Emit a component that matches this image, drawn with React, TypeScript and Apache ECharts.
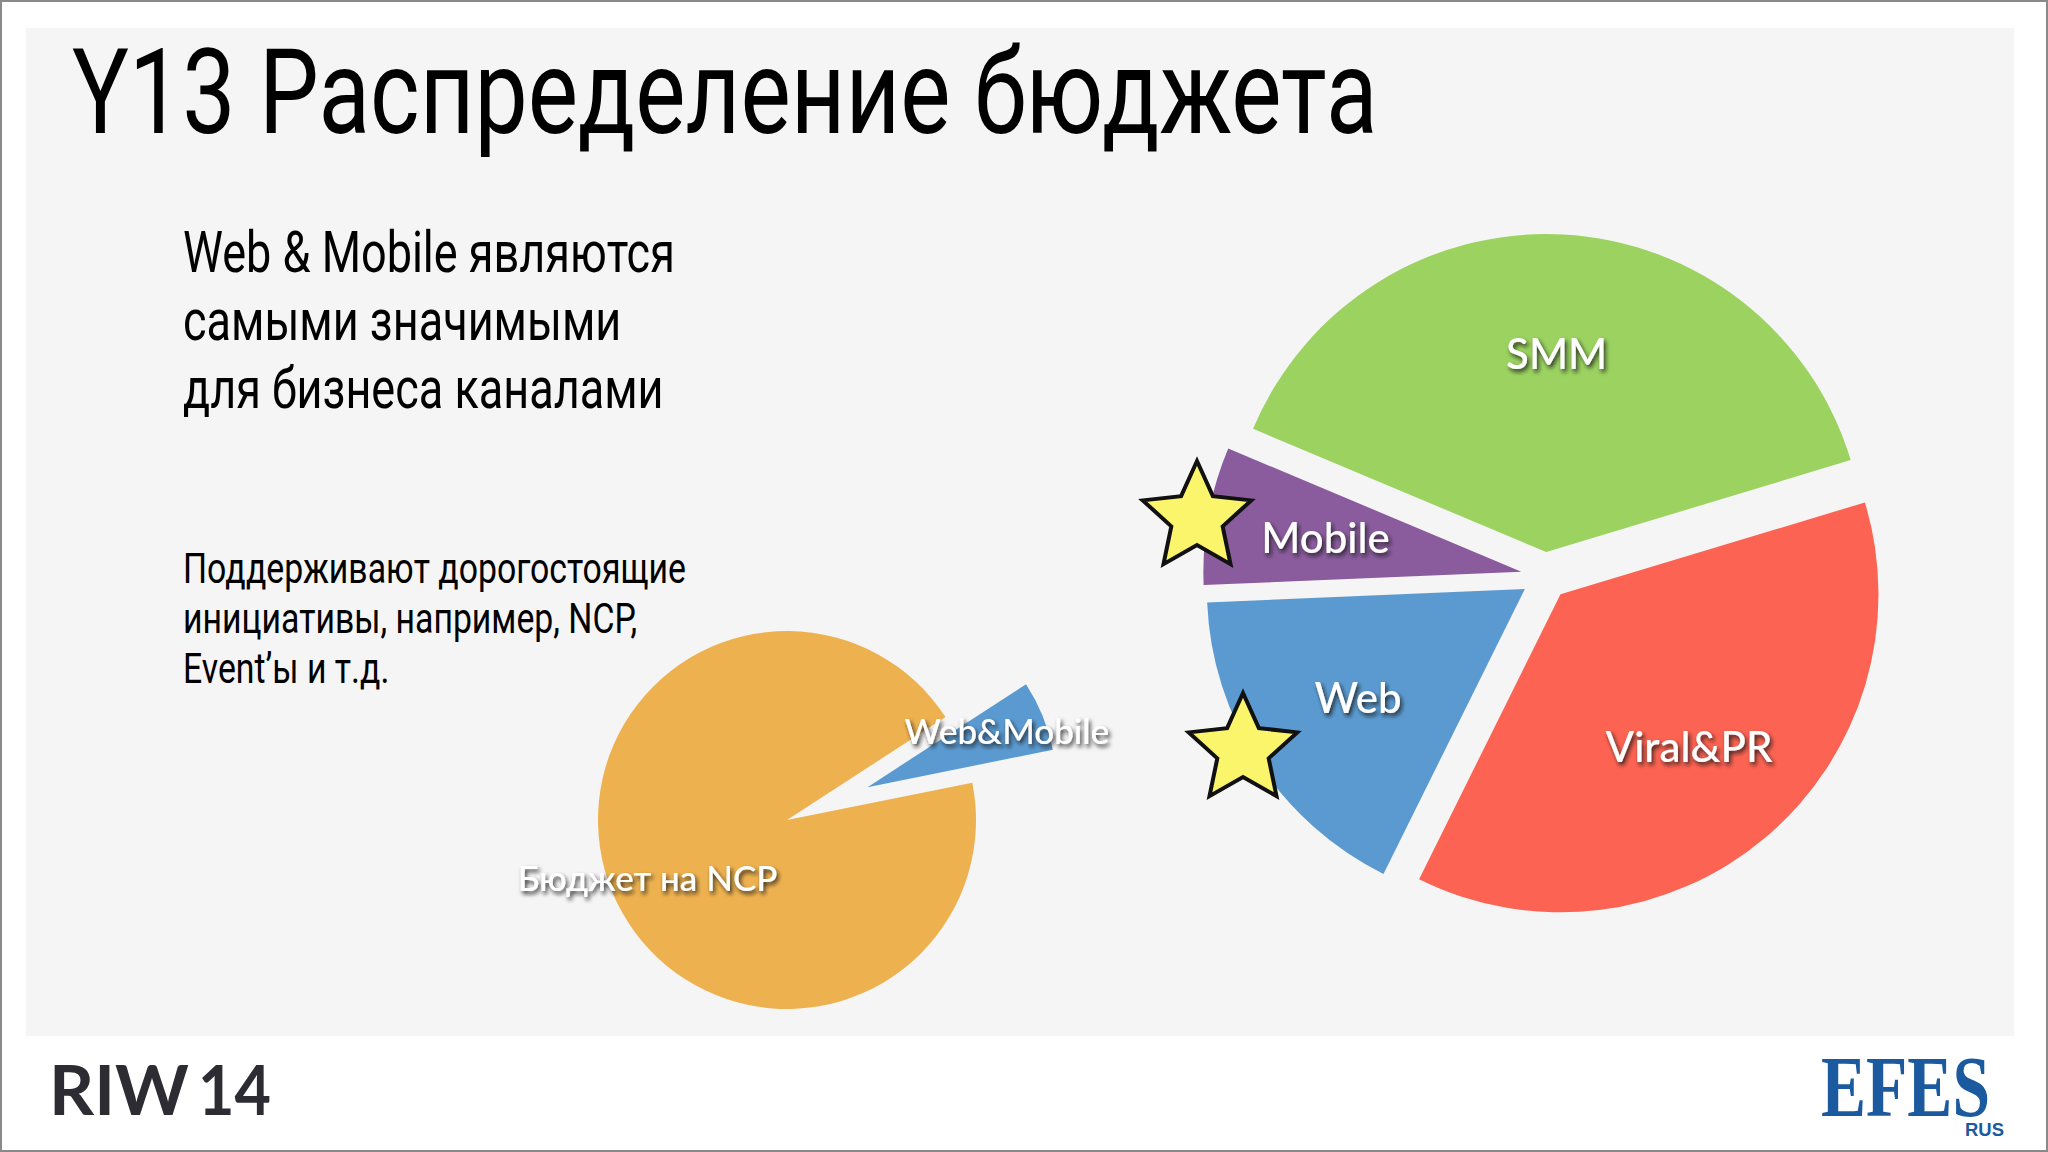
import React, { useEffect, useRef } from "react";
import * as echarts from "echarts";

// ---- data ----
const rightCategories = ["SMM", "Viral&PR", "Web", "Mobile"];
const rightValues = [39, 37, 17, 7];
const rightColors = ["#9bd260", "#fd6352", "#5b9ad0", "#8a5c9d"];

const leftCategories = ["Web&Mobile", "Бюджет на NCP"];
const leftValues = [6, 94];
const leftColors = ["#5b9ad0", "#eeb14f"];
const leftSelected = ["Web&Mobile"];

const titleText = "Y13 Распределение бюджета";
const leadLines = ["Web & Mobile являются", "самыми значимыми", "для бизнеса каналами"];
const noteLines = ["Поддерживают дорогостоящие", "инициативы, например, NCP,", "Event’ы и т.д."];

const FONT_DIN = "Roboto";
const FONT_GILL = "Lato, 'Open Sans', sans-serif";

function measure(text: string, size: number, family: string, weight = "normal") {
  const c = document.createElement("canvas").getContext("2d")!;
  c.font = `${weight} ${size}px ${family}`;
  return c.measureText(text).width;
}

function starPoints(cx: number, cy: number, R: number, r: number) {
  const pts: number[][] = [];
  for (let i = 0; i < 10; i++) {
    const a = -Math.PI / 2 + (i * Math.PI) / 5;
    const rad = i % 2 === 0 ? R : r;
    pts.push([cx + rad * Math.cos(a), cy + rad * Math.sin(a)]);
  }
  return pts;
}

function fittedText(
  text: string,
  x: number,
  y: number,
  size: number,
  family: string,
  targetWidth: number,
  fill: string,
  weight = "normal"
) {
  const w = measure(text, size, family, weight);
  return {
    type: "text",
    x,
    y,
    scaleX: targetWidth / w,
    z: 10,
    style: {
      text,
      fontFamily: family,
      fontSize: size,
      fontWeight: weight,
      fill,
      align: "left",
      verticalAlign: "middle",
    },
  };
}

const labelStyle = (size: number) => ({
  show: true,
  position: "inside",
  formatter: "{b}",
  color: "#ffffff",
  fontFamily: FONT_GILL,
  fontSize: size,
  fontWeight: 500,
  textShadowColor: "rgba(20,20,20,0.85)",
  textShadowBlur: 4,
  textShadowOffsetX: 2,
  textShadowOffsetY: 3,
});

export default function App() {
  const ref = useRef<HTMLDivElement>(null);

  useEffect(() => {
    document.body.style.margin = "0";
    const chart = echarts.init(ref.current!, null, { renderer: "svg" });

    const rightData = rightCategories.map((n, i) => ({
      name: n,
      value: rightValues[i],
      selected: true,
      itemStyle: { color: rightColors[i] },
    }));
    const leftData = leftCategories.map((n, i) => ({
      name: n,
      value: leftValues[i],
      selected: leftSelected.includes(n),
      itemStyle: { color: leftColors[i] },
    }));

    const leadScale = 492 / measure(leadLines[0], 58, FONT_DIN);
    const noteScale = 503 / measure(noteLines[0], 42, FONT_DIN);

    const graphic: any[] = [
      { type: "rect", z: 0, shape: { x: 1, y: 1, width: 2046, height: 1150 }, style: { fill: "#ffffff", stroke: "#8a8a8a", lineWidth: 2 } },
      { type: "rect", z: 1, shape: { x: 26, y: 28, width: 1988, height: 1008 }, style: { fill: "#f5f5f5" } },
      fittedText(titleText, 72, 93, 118, FONT_DIN, 1306, "#000000"),
      ...leadLines.map((t, i) => ({
        ...fittedText(t, 183, 252 + i * 68, 58, FONT_DIN, 1, "#000000"),
        scaleX: leadScale,
      })),
      ...noteLines.map((t, i) => ({
        ...fittedText(t, 183, 569 + i * 50, 42, FONT_DIN, 1, "#000000"),
        scaleX: noteScale,
      })),
      fittedText("RIW", 49, 1089, 68, "Lato", 140, "#2c2c32", "bold"),
      fittedText("14", 198, 1089, 68, "Lato", 73, "#2c2c32", "bold"),
      fittedText("EFES", 1821, 1087, 86, "'Liberation Serif'", 169, "#1b5a9e", "bold"),
      fittedText("RUS", 1965, 1130, 18, "'Liberation Sans'", 39, "#1b5a9e", "bold"),
      {
        type: "polygon",
        z: 20,
        shape: { points: starPoints(1197, 518, 57, 27) },
        style: { fill: "#fbf56c", stroke: "#111111", lineWidth: 4, lineJoin: "miter" },
      },
      {
        type: "polygon",
        z: 20,
        shape: { points: starPoints(1243, 750, 57, 27) },
        style: { fill: "#fbf56c", stroke: "#111111", lineWidth: 4, lineJoin: "miter" },
      },
    ];

    const common = {
      type: "pie",
      clockwise: true,
      avoidLabelOverlap: false,
      emphasis: { disabled: true },
      select: { itemStyle: { borderWidth: 0 } },
      labelLine: { show: false },
    };

    chart.setOption({
      animation: false,
      backgroundColor: "#ffffff",
      graphic,
      series: [
        {
          ...common,
          name: "channels",
          center: [1545, 576],
          radius: [0, 318],
          startAngle: 157.2,
          selectedMode: "multiple",
          selectedOffset: 24,
          label: { show: false },
          data: rightData,
          z: 5,
        },
        {
          ...common,
          name: "channels-labels",
          center: [1545, 576],
          radius: [150, 242],
          startAngle: 157.2,
          selectedMode: "multiple",
          selectedOffset: 24,
          silent: true,
          itemStyle: { color: "rgba(0,0,0,0)" },
          label: labelStyle(42),
          data: rightData.map((d) => ({ ...d, itemStyle: { color: "rgba(0,0,0,0)" } })),
          z: 6,
        },
        {
          ...common,
          name: "budget",
          center: [787, 820],
          radius: [0, 189],
          startAngle: 33,
          selectedMode: "multiple",
          selectedOffset: 87,
          label: { show: false },
          data: leftData,
          z: 5,
        },
        {
          ...common,
          name: "budget-labels",
          center: [787, 820],
          radius: [106, 189],
          startAngle: 33,
          selectedMode: "multiple",
          selectedOffset: 87,
          silent: true,
          label: labelStyle(35),
          data: leftData.map((d) => ({ ...d, itemStyle: { color: "rgba(0,0,0,0)" } })),
          z: 6,
        },
      ],
    });

    return () => chart.dispose();
  }, []);

  return (
    <div
      ref={ref}
      style={{ position: "absolute", left: 0, top: 0, width: 2048, height: 1152 }}
    />
  );
}
